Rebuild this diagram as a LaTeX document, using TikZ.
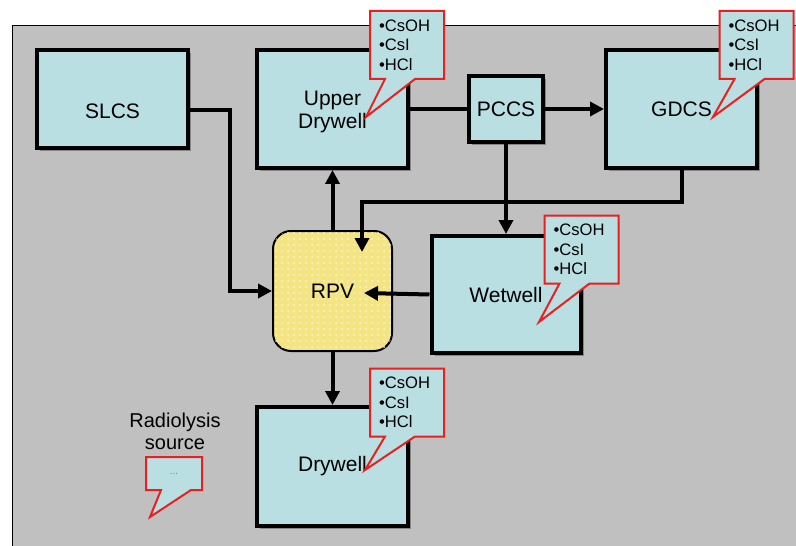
\documentclass[tikz,border=0pt]{standalone}
\usepackage{fontspec}
\setmainfont{Liberation Sans}
\definecolor{PanelGray}{RGB}{192,192,192}
\definecolor{BoxCyan}{RGB}{186,223,227}
\definecolor{VesselYellow}{RGB}{243,228,132}
\definecolor{NoteRed}{RGB}{232,32,32}
\usetikzlibrary{arrows.meta,positioning,shapes.callouts,shadows,patterns}

\begin{document}
\begin{tikzpicture}[x=0.5pt, y=-0.5pt,
    font=\fontsize{10.5}{11.5}\selectfont,
    box/.style={draw, line width=2pt, fill=BoxCyan, align=center, inner sep=2pt,
                drop shadow={shadow xshift=1.5pt, shadow yshift=-1.5pt, fill=black, opacity=.3}},
    vessel/.style={draw, line width=1pt, rounded corners=9pt, fill=VesselYellow,
                postaction={pattern=dots, pattern color=VesselYellow!45!white},
                minimum width=59.5pt, minimum height=60pt},
    note/.style={rectangle callout, draw=NoteRed, line width=1pt, fill=BoxCyan, align=left,
                font=\fontsize{8.3}{9.8}\selectfont, text width=28pt, inner xsep=4.5pt,
                minimum height=34pt, callout pointer width=15pt},
    arr/.style={-{Triangle[length=7pt,width=7pt]}, line width=2pt},
    link/.style={line width=2pt}
  ]
    \useasboundingbox (0,0) rectangle (796,545);

    % Panel
    \fill[PanelGray] (12,26) rectangle (800,550);
    \draw[line width=.5pt] (12,550) -- (12,26) -- (800,26);

    % Top row
    \node[box, minimum width=75.5pt, minimum height=49pt,
          label={[yshift=-6pt]center:SLCS}] (slcs) at (112.5,99) {};
    \node[box, minimum width=75.5pt, minimum height=59pt,
          label={[yshift=-1.5pt, align=center]center:Upper\\Drywell}] (ud) at (332.5,109) {};
    \node[box, minimum width=37pt, minimum height=33pt, right=28.5pt of ud] (pccs) {PCCS};
    \node[box, minimum width=75.5pt, minimum height=59pt, right=29.5pt of pccs] (gdcs) {GDCS};

    % Middle and bottom
    \node[vessel, below=30pt of ud] (rpv) {RPV};
    \node[box, minimum width=74.5pt, minimum height=58.5pt, below=45pt of pccs] (wetwell) {Wetwell};
    \node[box, minimum width=75.5pt, minimum height=59.5pt, below=26.5pt of rpv] (drywell) {Drywell};

    \coordinate (rpvtop) at (362,252);
    \coordinate (rpvmid) at (364,293);

    \draw[arr] ([yshift=-5.5pt]slcs.east) -- ++(40,0) |- (rpv.west);
    \draw[arr] (rpv.north) -- (rpv.north |- ud.south);
    \draw[link] (pccs.west) -- (pccs.west -| ud.east);
    \draw[arr] (pccs.east) -- (gdcs.west);
    \draw[arr] (pccs.south) -- (wetwell.north);
    \draw[arr] (gdcs.south) -- ++(0,32) -| (rpvtop);
    \draw[arr] (wetwell.west) -- (rpvmid);
    \draw[arr] (rpv.south) -- (rpv.south |- drywell.north);

    % Species callouts
    \node[note, callout absolute pointer={(366,117)}] (udnote) at (407,45) {•CsOH\\•CsI\\•HCl};
    \node[note, callout absolute pointer={(713,117)}] (gdcsnote) at (756.5,45) {•CsOH\\•CsI\\•HCl};
    \node[note, callout absolute pointer={(539,322)}] (wwnote) at (581.5,249.5) {•CsOH\\•CsI\\•HCl};
    \node[note, callout absolute pointer={(365,470)}] (dwnote) at (407,402.5) {•CsOH\\•CsI\\•HCl};

    % Radiolysis
    \node[font=\fontsize{10}{11}\selectfont, align=center] (radlbl) at (175,431) {Radiolysis\\source};
    \node[note, text width=19pt, minimum height=16.5pt, font=\tiny, text=gray, align=center,
          callout absolute pointer={(150,517)}] (radnote) at (174,473.5) {...};
\end{tikzpicture}
\end{document}
